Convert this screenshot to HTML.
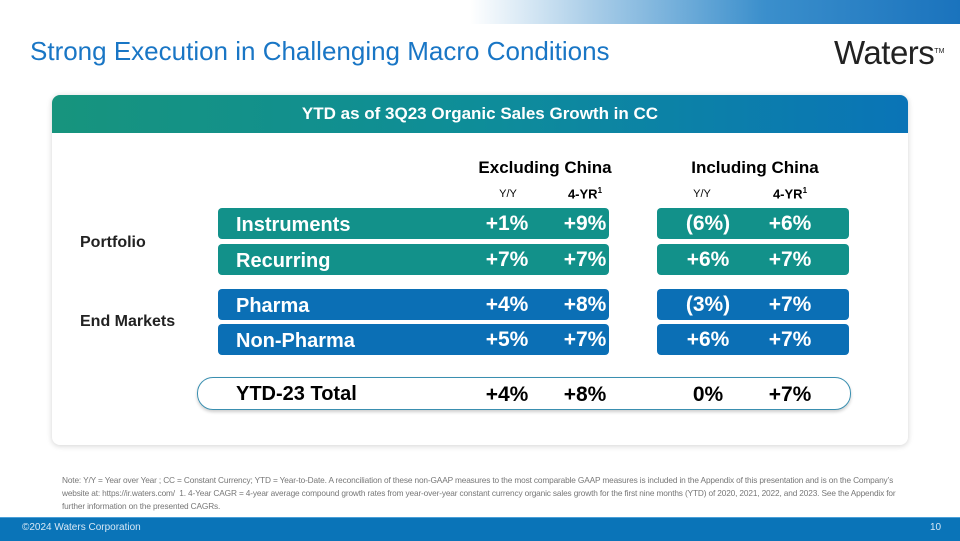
<!DOCTYPE html>
<html><head><meta charset="utf-8">
<style>
body{margin:0;width:960px;height:540px;position:relative;overflow:hidden;background:#fff;font-family:"Liberation Sans",Arial,sans-serif}
.a{position:absolute}
.row{position:absolute;height:31px;border-radius:4px;color:#fff;font-weight:bold;font-size:20px;line-height:31px}
.v{position:absolute;width:80px;text-align:center;font-weight:bold;font-size:21px;line-height:31px}
.sub{position:absolute;width:80px;text-align:center;font-size:11px;top:186px}
</style></head><body>
<div class="a" style="left:470px;top:0;width:490px;height:24px;background:linear-gradient(90deg,#fff 0%,#a9cde8 25%,#3b8fcc 60%,#1a73bd 100%)"></div>
<div class="a" style="left:30px;top:36px;font-size:26px;color:#1976c5">Strong Execution in Challenging Macro Conditions</div>
<div class="a" style="left:834px;top:34px;font-size:33px;color:#222;letter-spacing:-0.5px">Waters<span style="font-size:7px;vertical-align:top;letter-spacing:0;position:relative;top:14px">TM</span></div>

<div class="a" style="left:52px;top:95px;width:856px;height:350px;background:#fff;border-radius:8px;box-shadow:0 1px 6px rgba(0,0,0,0.18)"></div>
<div class="a" style="left:52px;top:95px;width:856px;height:38px;border-radius:8px 8px 0 0;background:linear-gradient(90deg,#17947d,#0e8d99 50%,#0a74b7);color:#fff;font-weight:bold;font-size:17px;line-height:38px;text-align:center">YTD as of 3Q23 Organic Sales Growth in CC</div>

<div class="a" style="left:460px;top:158px;width:170px;text-align:center;font-weight:bold;font-size:17px">Excluding China</div>
<div class="a" style="left:670px;top:158px;width:170px;text-align:center;font-weight:bold;font-size:17px">Including China</div>
<div class="sub" style="left:468px;top:188px">Y/Y</div>
<div class="sub" style="left:545px;font-weight:bold;font-size:13px;top:186px">4-YR<sup style="font-size:8px">1</sup></div>
<div class="sub" style="left:662px;top:188px">Y/Y</div>
<div class="sub" style="left:750px;font-weight:bold;font-size:13px;top:186px">4-YR<sup style="font-size:8px">1</sup></div>

<div class="a" style="left:80px;top:234px;font-weight:bold;font-size:16px;color:#222">Portfolio</div>
<div class="a" style="left:80px;top:313px;font-weight:bold;font-size:16px;color:#222">End Markets</div>

<div id="rows"></div>

<div class="a" style="left:197px;top:377px;width:652px;height:31px;border:1.5px solid #3a8fb0;border-radius:16px;box-shadow:0 2px 3px rgba(0,0,0,0.2)"></div>
<div class="a" style="left:236px;top:379px;font-weight:bold;font-size:20px;line-height:31px">YTD-23 Total</div>
<div class="v" style="left:467px;top:379px">+4%</div>
<div class="v" style="left:545px;top:379px">+8%</div>
<div class="v" style="left:668px;top:379px">0%</div>
<div class="v" style="left:750px;top:379px">+7%</div>

<div class="a" style="left:62px;top:474px;width:840px;font-size:8.3px;line-height:13px;color:#777;letter-spacing:-0.15px">Note: Y/Y = Year over Year ; CC = Constant Currency; YTD = Year-to-Date. A reconciliation of these non-GAAP measures to the most comparable GAAP measures is included in the Appendix of this presentation and is on the Company’s website at: https://ir.waters.com/ &nbsp;1. 4-Year CAGR = 4-year average compound growth rates from year-over-year constant currency organic sales growth for the first nine months (YTD) of 2020, 2021, 2022, and 2023. See the Appendix for further information on the presented CAGRs.</div>

<div class="a" style="left:0;top:517px;width:960px;height:23px;background:#0a74b8;border-top:1px solid #4aa0d8"></div>
<div class="a" style="left:22px;top:522px;font-size:10px;color:#d8e8f5">©2024 Waters Corporation</div>
<div class="a" style="left:930px;top:522px;font-size:10px;color:#d8e8f5">10</div>

<script>
const labels=["Instruments","Recurring","Pharma","Non-Pharma"];
const exYY=["+1%","+7%","+4%","+5%"];
const ex4=["+9%","+7%","+8%","+7%"];
const incYY=["(6%)","+6%","(3%)","+6%"];
const inc4=["+6%","+7%","+7%","+7%"];
const tops=[208,244,289,324];
const colors=["#12918a","#12918a","#0b6fb5","#0b6fb5"];
const host=document.getElementById('rows');
labels.forEach((l,i)=>{
  const r1=document.createElement('div');r1.className='row';
  
  
  r1.style.cssText=`left:218px;top:${tops[i]}px;width:391px;background:${colors[i]}`;
  r1.innerHTML=`<span style="position:absolute;left:18px;top:2px">${l}</span>`;
  host.appendChild(r1);
  const r2=document.createElement('div');r2.className='row';
  
  
  r2.style.cssText=`left:657px;top:${tops[i]}px;width:192px;background:${colors[i]}`;
  host.appendChild(r2);
  [[exYY,467],[ex4,545],[incYY,668],[inc4,750]].forEach(([arr,x],j)=>{
    const v=document.createElement('div');v.className='v';
    
    
    v.style.cssText=`left:${x}px;top:${tops[i]}px;color:#fff`;
    v.textContent=arr[i];host.appendChild(v);
  });
});
</script>
</body></html>
